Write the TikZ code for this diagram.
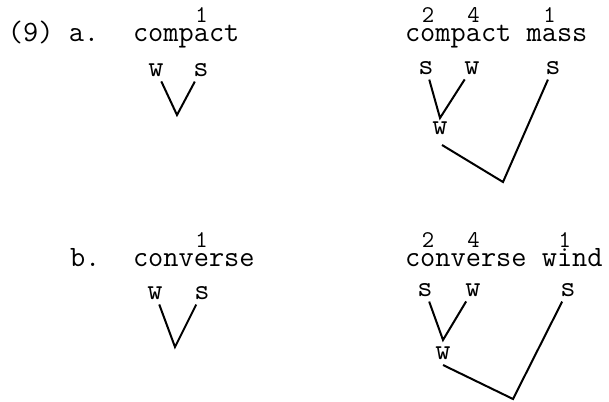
\documentclass[tikz,border=0pt]{standalone}
\newcommand\strs[2]{\rlap{\hbox to .525em{\hss\raisebox{9.5pt}{\fontsize{12}{14}\selectfont#2}\hss}}#1}
\begin{document}
\begin{tikzpicture}[x=.5pt,y=-.5pt,line width=1pt,
  every node/.style={inner sep=0pt,font=\fontsize{14.76}{17}\ttfamily},
  wrd/.style={anchor=base west}, lab/.style={inner sep=2pt}]
\useasboundingbox (0,0) rectangle (609,401);
% (9) a.
\path (7,42) node[wrd] (na) {(9) a.}
 (132,42) node[wrd] (ca) {comp\strs{a}{1}ct}
 (404,42) node[wrd] (cm) {c\strs{o}{2}mp\strs{a}{4}ct m\strs{a}{1}ss};
\node[lab] (aw) at (156,70) {w}; \node[lab] (as) at (201,70) {s};
\coordinate (av) at (177,115);
\draw (aw) -- (av) -- (as);
\node[lab] (bs) at (426,68) {s}; \node[lab] (bw) at (472,68) {w}; \node[lab] (bS) at (553,68) {s};
\node[lab] (bm) at (440,128) {w};
\coordinate (bv) at (440,118); \coordinate (bl) at (442,145); \coordinate (bb) at (503,182);
\draw (bs) -- (bv) -- (bw) (bl) -- (bb) -- (bS);
% b.
\path (69,266) node[wrd] (nb) {b.}
 (132,266) node[wrd] (cv) {conv\strs{e}{1}rse}
 (404,266) node[wrd] (cw) {c\strs{o}{2}nv\strs{e}{4}rse w\strs{i}{1}nd};
\node[lab] (cw1) at (155,293) {w}; \node[lab] (cs1) at (202,293) {s};
\coordinate (cvv) at (175,347);
\draw (cw1) -- (cvv) -- (cs1);
\node[lab] (ds) at (425,290) {s}; \node[lab] (dw) at (473,290) {w}; \node[lab] (dS) at (568,290) {s};
\node[lab] (dm) at (443,353) {w};
\coordinate (dv) at (443,340); \coordinate (dl) at (443,365); \coordinate (db) at (513,399);
\draw (ds) -- (dv) -- (dw) (dl) -- (db) -- (dS);
\end{tikzpicture}
\end{document}
